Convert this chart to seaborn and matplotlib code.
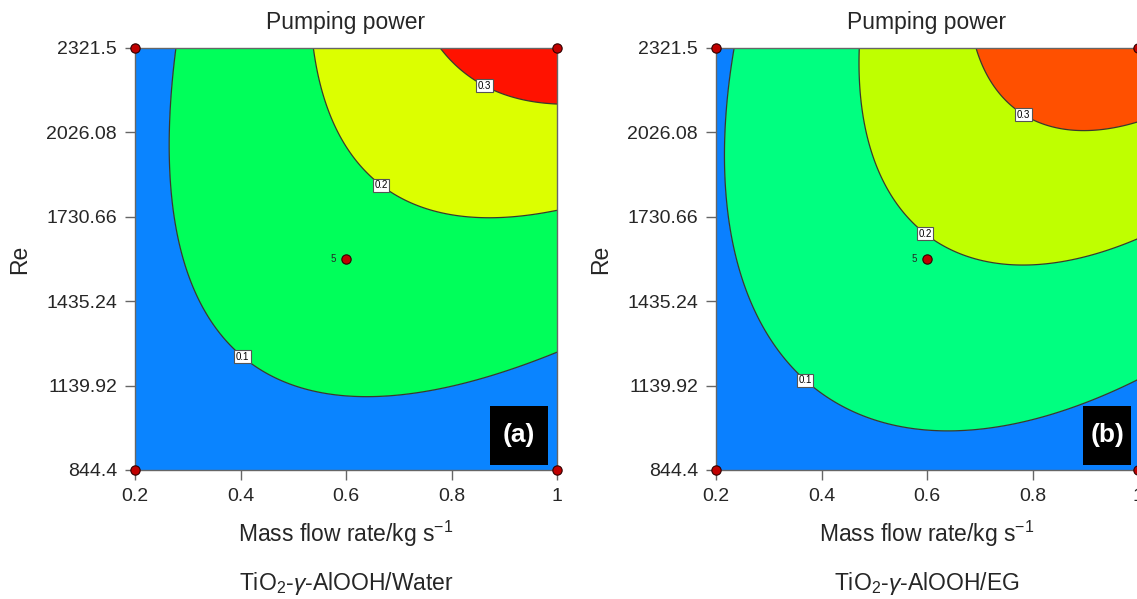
import numpy as np
import pandas as pd
import matplotlib
matplotlib.use("Agg")
import matplotlib.pyplot as plt
from matplotlib.patches import Rectangle
import seaborn as sns

# Factor ranges (face-centred design)
mass_flow_range = [0.2, 1.0]
re_range = [844.4, 2321.5]
x_ticks = [0.2, 0.4, 0.6, 0.8, 1.0]
x_tick_labels = ["0.2", "0.4", "0.6", "0.8", "1"]
re_ticks = [844.4, 1139.92, 1435.24, 1730.66, 2026.08, 2321.5]
re_tick_labels = ["844.4", "1139.92", "1435.24", "1730.66", "2026.08", "2321.5"]

# ln(pumping power) response surface in coded factors A (mass flow), B (Re):
# terms = [1, A, B, AB, A^2, B^2]
coef_water = [-1.8558, 0.3391, 0.5642, 0.4262, -0.3111, -0.1920]
coef_eg = [-1.6714, 0.3556, 0.5757, 0.3436, -0.3801, -0.2502]

contour_levels = [0.1, 0.2, 0.3]

# Design points: factorial corners and centre point (5 replicates)
design_mass_flow = [0.2, 0.2, 1.0, 1.0, 0.6]
design_re = [844.4, 2321.5, 844.4, 2321.5, 1582.95]
centre_replicates = 5

fills_water = ["#0a84ff", "#00ff5a", "#dcff00", "#ff1200"]
fills_eg = ["#0a80ff", "#00ff80", "#bfff00", "#ff5000"]

panels = [
    dict(coef=coef_water, fills=fills_water, tag="(a)",
         fluid=r"TiO$_2$-$\gamma$-AlOOH/Water",
         label_at=[(0.416, 1268), (0.659, 1824), (0.862, 2188)],
         rect=[135 / 1137, 1 - 470 / 599, 422 / 1137, 422 / 599],
         tagbox=(0.841, 0.012, 0.137, 0.140)),
    dict(coef=coef_eg, fills=fills_eg, tag="(b)",
         fluid=r"TiO$_2$-$\gamma$-AlOOH/EG",
         label_at=[(0.371, 1163), (0.601, 1681), (0.80, 2139)],
         rect=[716 / 1137, 1 - 470 / 599, 422 / 1137, 422 / 599],
         tagbox=(0.870, 0.012, 0.114, 0.140)),
]

sns.set_theme(style="ticks")
plt.rcParams["font.family"] = ["Liberation Sans", "DejaVu Sans"]
plt.rcParams["mathtext.fontset"] = "custom"
plt.rcParams["mathtext.rm"] = "Liberation Sans"
plt.rcParams["mathtext.it"] = "Liberation Sans:italic"
plt.rcParams["mathtext.bf"] = "Liberation Sans:bold"

fig = plt.figure(figsize=(11.37, 5.99), dpi=100)

xs = np.linspace(*mass_flow_range, 400)
res = np.linspace(*re_range, 400)
X, R = np.meshgrid(xs, res)
x_mid = sum(mass_flow_range) / 2
x_half = (mass_flow_range[1] - mass_flow_range[0]) / 2
re_mid = sum(re_range) / 2
re_half = (re_range[1] - re_range[0]) / 2
A = (X - x_mid) / x_half
B = (R - re_mid) / re_half

design = pd.DataFrame({"mass_flow": design_mass_flow, "Re": design_re})

for p in panels:
    ax = fig.add_axes(p["rect"])
    c = p["coef"]
    Z = np.exp(c[0] + c[1] * A + c[2] * B + c[3] * A * B + c[4] * A ** 2 + c[5] * B ** 2)
    bounds = [0.0] + contour_levels + [max(Z.max(), 1.0) * 2]
    ax.contourf(X, R, Z, levels=bounds, colors=p["fills"], antialiased=True)
    cs = ax.contour(X, R, Z, levels=contour_levels, colors="#3a3a2a", linewidths=0.9)
    labels = ax.clabel(cs, fmt="%.1f", fontsize=7, inline=False, manual=p["label_at"])
    for t in labels:
        t.set_rotation(0)
        t.set_color("black")
        t.set_bbox(dict(facecolor="white", edgecolor="#555555", boxstyle="square,pad=0.15", linewidth=0.8))

    sns.scatterplot(data=design, x="mass_flow", y="Re", ax=ax, s=45, color="#c00000",
                    edgecolor="#300000", linewidth=0.8, zorder=10, clip_on=False, legend=False)
    ax.text(design_mass_flow[-1] - 0.02, design_re[-1], str(centre_replicates),
            fontsize=7, ha="right", va="center", zorder=11)

    ax.set_xlim(*mass_flow_range)
    ax.set_ylim(*re_range)
    ax.set_xticks(x_ticks)
    ax.set_xticklabels(x_tick_labels)
    ax.set_yticks(re_ticks)
    ax.set_yticklabels(re_tick_labels)
    ax.tick_params(direction="out", length=7, width=1, color="#666666", labelsize=14)
    ax.tick_params(axis="y", pad=6)
    ax.tick_params(axis="x", pad=6)
    for s in ax.spines.values():
        s.set_color("#666666")
        s.set_linewidth(1)
        s.set_zorder(5)

    ax.set_title("Pumping power", fontsize=16.5, pad=14)
    ax.set_xlabel(r"Mass flow rate/kg s$^{-1}$", fontsize=16.5, labelpad=10)
    ax.set_ylabel("Re", fontsize=16.5, labelpad=11)
    ax.text(0.5, -0.268, p["fluid"], transform=ax.transAxes, ha="center", va="center", fontsize=16.5)

    bx, by, bw, bh = p["tagbox"]
    ax.add_patch(Rectangle((bx, by), bw, bh, transform=ax.transAxes, facecolor="black",
                           edgecolor="none", zorder=8))
    ax.text(bx + bw / 2, by + bh / 2, p["tag"], transform=ax.transAxes, color="white",
            fontsize=19, fontweight="bold", ha="center", va="center", zorder=9)

fig.savefig("out.png", dpi=100)
